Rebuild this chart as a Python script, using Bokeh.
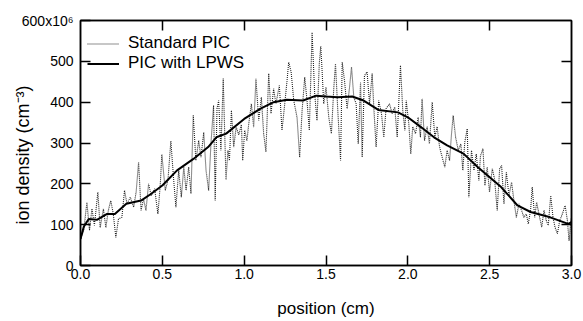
from bokeh.plotting import figure
from bokeh.models import (Range1d, LinearAxis, Title, Legend, LegendItem,
                          FixedTicker, NumeralTickFormatter)
from bokeh.embed import file_html
from bokeh.resources import INLINE

FONT = "Liberation Sans"

# ---- data (ion density in units of 10^6 cm^-3, position in cm) ----
std_x = [0.000, 0.020, 0.039, 0.055, 0.070, 0.085, 0.106, 0.120, 0.140, 0.155,
         0.170, 0.185, 0.200, 0.216, 0.232, 0.253, 0.269, 0.284, 0.304, 0.325,
         0.340, 0.355, 0.370, 0.385, 0.400, 0.416, 0.432, 0.453, 0.473, 0.487,
         0.497, 0.518, 0.534, 0.552, 0.569, 0.583, 0.600, 0.616, 0.631, 0.645,
         0.661, 0.675, 0.689, 0.705, 0.722, 0.736, 0.753, 0.767, 0.783, 0.797,
         0.813, 0.823, 0.834, 0.844, 0.858, 0.872, 0.889, 0.901, 0.910, 0.922,
         0.936, 0.951, 0.967, 0.983, 0.991, 1.003, 1.017, 1.028, 1.044, 1.058,
         1.072, 1.089, 1.105, 1.119, 1.133, 1.150, 1.164, 1.180, 1.194, 1.215,
         1.231, 1.246, 1.262, 1.272, 1.287, 1.303, 1.323, 1.339, 1.354, 1.370,
         1.384, 1.398, 1.415, 1.431, 1.445, 1.459, 1.468, 1.476, 1.486, 1.500,
         1.517, 1.533, 1.548, 1.558, 1.572, 1.589, 1.599, 1.613, 1.629, 1.644,
         1.656, 1.670, 1.684, 1.697, 1.711, 1.721, 1.735, 1.751, 1.766, 1.782,
         1.792, 1.806, 1.822, 1.839, 1.853, 1.867, 1.888, 1.904, 1.920, 1.935,
         1.955, 1.969, 1.982, 1.990, 2.006, 2.018, 2.030, 2.047, 2.063, 2.077,
         2.087, 2.102, 2.118, 2.132, 2.149, 2.165, 2.179, 2.194, 2.210, 2.226,
         2.240, 2.255, 2.267, 2.277, 2.292, 2.308, 2.324, 2.336, 2.348, 2.363,
         2.373, 2.389, 2.404, 2.418, 2.434, 2.444, 2.459, 2.471, 2.485, 2.499,
         2.516, 2.530, 2.546, 2.561, 2.573, 2.587, 2.602, 2.618, 2.634, 2.648,
         2.663, 2.679, 2.695, 2.709, 2.724, 2.736, 2.750, 2.760, 2.775, 2.787,
         2.801, 2.818, 2.832, 2.846, 2.858, 2.873, 2.887, 2.899, 2.914, 2.928,
         2.944, 2.961, 2.975, 2.985, 2.996, 3.000]
std_n = [65, 86, 155, 86, 139, 98, 180, 93, 139, 93,
         135, 159, 127, 69, 114, 118, 184, 151, 167, 143,
         180, 253, 135, 163, 135, 200, 171, 188, 126, 196,
         272, 184, 208, 305, 211, 143, 233, 167, 241, 184,
         241, 176, 368, 257, 306, 265, 326, 233, 184, 298,
         392, 159, 384, 404, 282, 458, 210, 282, 257, 380,
         290, 339, 320, 345, 257, 331, 306, 347, 396, 339,
         457, 355, 412, 323, 278, 470, 372, 433, 396, 441,
         331, 388, 453, 498, 474, 404, 363, 265, 380, 461,
         404, 331, 571, 420, 355, 494, 537, 478, 396, 437,
         363, 323, 437, 494, 380, 257, 498, 453, 384, 437,
         486, 412, 396, 298, 449, 265, 465, 474, 396, 470,
         388, 290, 404, 372, 314, 384, 396, 372, 388, 314,
         490, 380, 331, 404, 347, 273, 340, 323, 363, 314,
         408, 306, 340, 298, 400, 314, 340, 290, 265, 241,
         282, 257, 323, 367, 314, 282, 298, 233, 302, 335,
         167, 282, 233, 273, 208, 269, 286, 196, 241, 180,
         237, 212, 135, 237, 245, 151, 228, 171, 204, 159,
         118, 151, 135, 118, 126, 102, 135, 192, 118, 155,
         126, 94, 135, 110, 98, 171, 118, 94, 78, 110,
         126, 147, 110, 61, 110, 118]

lpws_x = [0.00, 0.02, 0.05, 0.10, 0.16, 0.21, 0.28, 0.37, 0.43, 0.50,
          0.59, 0.69, 0.78, 0.83, 0.89, 1.00, 1.10, 1.18, 1.26, 1.36,
          1.44, 1.50, 1.57, 1.66, 1.73, 1.82, 1.94, 2.00, 2.08, 2.16,
          2.24, 2.34, 2.43, 2.50, 2.57, 2.67, 2.75, 2.87, 2.98, 3.00]
lpws_n = [65, 95, 114, 112, 126, 126, 151, 159, 175, 196,
          233, 261, 290, 314, 323, 359, 384, 400, 406, 404,
          416, 414, 412, 414, 404, 381, 375, 363, 339, 314,
          294, 274, 240, 216, 192, 147, 131, 118, 102, 106]

x_ticks = [0.0, 0.5, 1.0, 1.5, 2.0, 2.5, 3.0]
y_ticks = [0, 100, 200, 300, 400, 500, 600]
legend_labels = ["Standard PIC", "PIC with LPWS"]

p = figure(width=583, height=321, output_backend="svg", toolbar_location=None,
           x_range=Range1d(0, 3), y_range=Range1d(0, 600),
           min_border_left=80, min_border_right=12, min_border_top=20,
           min_border_bottom=56)
p.background_fill_color = "white"
p.border_fill_color = "white"
p.outline_line_color = "black"
p.outline_line_width = 1.5
p.grid.visible = False

r1 = p.line(std_x, std_n, line_color="#222222", line_width=1.1, line_dash="1 1")
r2 = p.line(lpws_x, lpws_n, line_color="black", line_width=2)

def style_axis(ax, ticks):
    ax.ticker = FixedTicker(ticks=ticks)
    ax.axis_line_color = "black"
    ax.axis_line_width = 1.5
    ax.major_tick_in = 10
    ax.major_tick_out = 0
    ax.major_tick_line_width = 1.5
    ax.major_tick_line_color = "black"
    ax.minor_tick_line_color = None
    ax.major_label_text_font = FONT
    ax.major_label_text_font_size = "14px"
    ax.major_label_text_color = "black"

xa = p.xaxis[0]
style_axis(xa, x_ticks)
xa.formatter = NumeralTickFormatter(format="0.0")
xa.major_label_standoff = 3
xa.axis_label = "position (cm)"
xa.axis_label_text_font = FONT
xa.axis_label_text_font_size = "17px"
xa.axis_label_text_font_style = "normal"
xa.axis_label_text_color = "black"
xa.axis_label_standoff = 17

ya = p.yaxis[0]
style_axis(ya, y_ticks)
ya.major_label_overrides = {600: "600x10\u2076"}
ya.major_label_standoff = 7

# mirrored tick marks (no labels) on the top and right sides
top = LinearAxis()
style_axis(top, x_ticks[1:-1])
top.major_label_text_font_size = "1px"
top.major_label_text_color = None
top.major_label_standoff = 0
p.add_layout(top, "above")

right = LinearAxis()
style_axis(right, y_ticks[1:-1])
right.major_label_text_font_size = "1px"
right.major_label_text_color = None
right.major_label_standoff = 0
p.add_layout(right, "right")

# y-axis title: starts 41 px above the frame bottom, as in the original
ytitle = Title(text="ion density (cm\u207b\u00b3)", align="left", offset=41,
               vertical_align="bottom", standoff=-29, text_font=FONT,
               text_font_size="18px", text_font_style="normal",
               text_color="black")
p.add_layout(ytitle, "left")

legend = Legend(items=[LegendItem(label=legend_labels[0], renderers=[r1]),
                       LegendItem(label=legend_labels[1], renderers=[r2])],
                location=(7, 192), border_line_color=None,
                background_fill_alpha=0, label_text_font=FONT,
                label_text_font_size="17px", label_text_color="black",
                glyph_width=32, glyph_height=19, label_height=19,
                spacing=0, padding=0, margin=0, label_standoff=9)
p.add_layout(legend)

open("out.html", "w").write(file_html(p, INLINE))
